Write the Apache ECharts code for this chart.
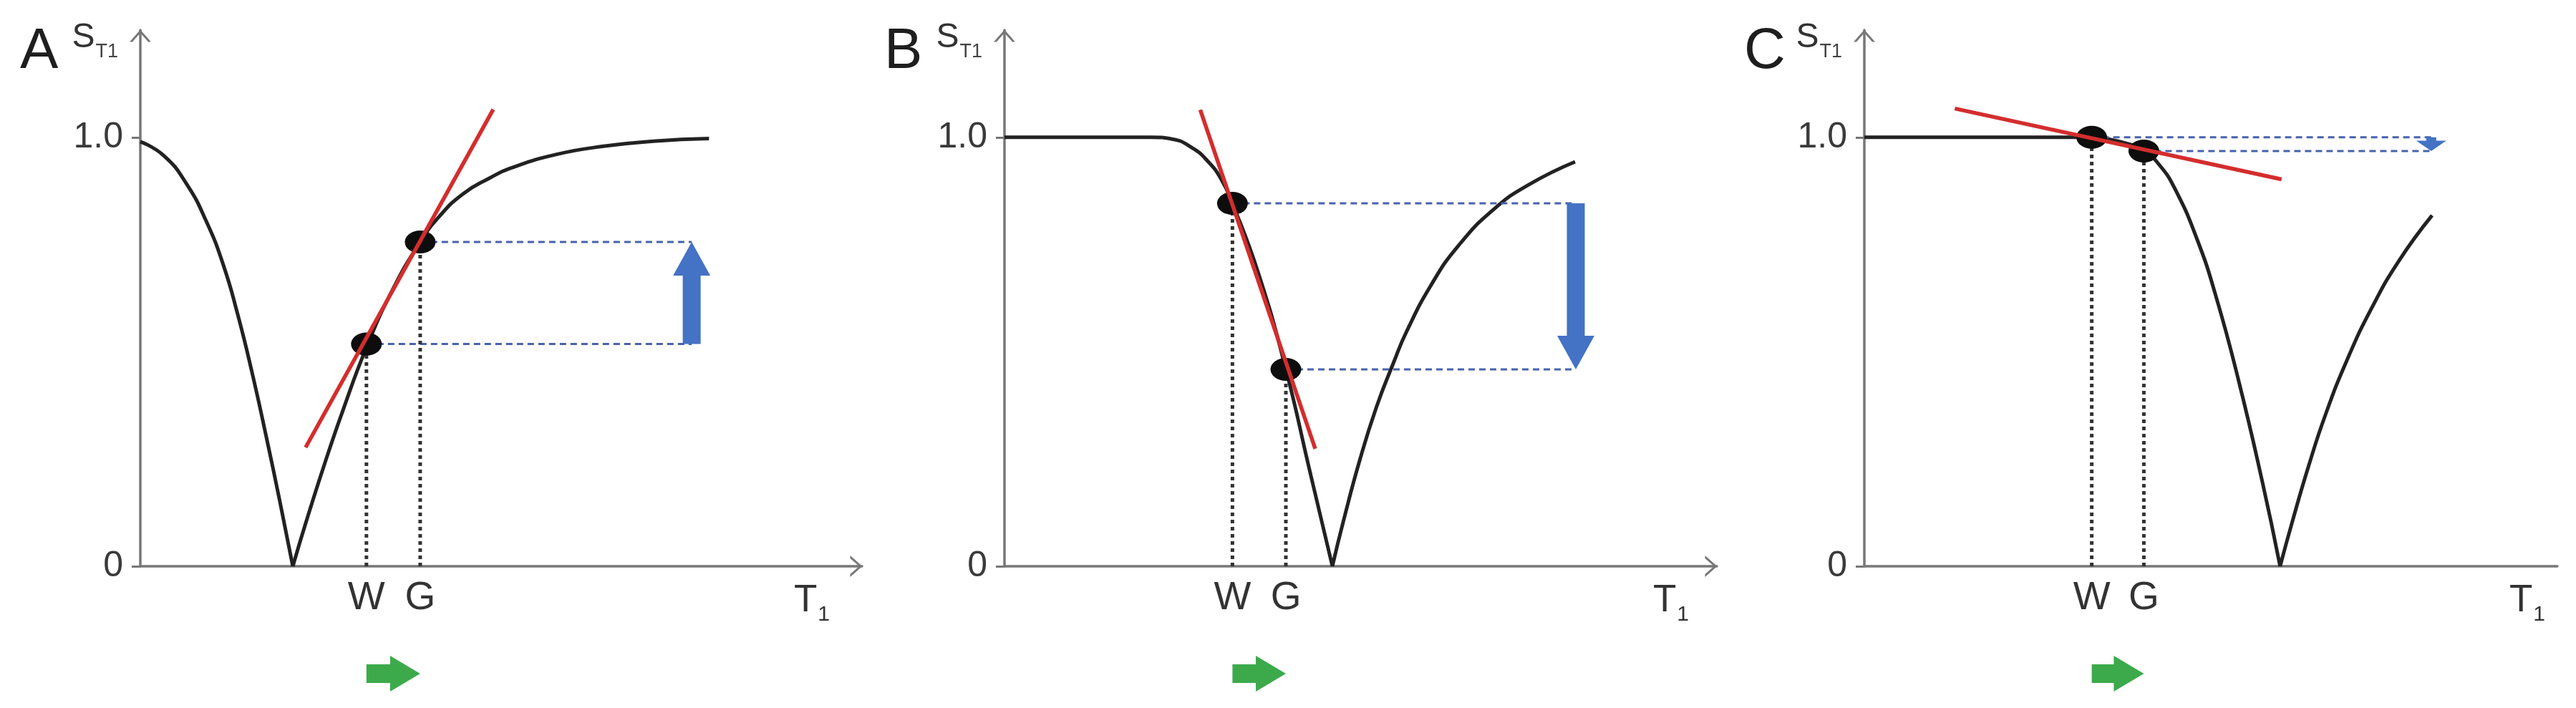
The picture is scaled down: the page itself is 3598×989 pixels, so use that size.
<!DOCTYPE html>
<html>
<head>
<meta charset="utf-8">
<title>S_T1 versus T1</title>
<script src="https://cdn.jsdelivr.net/npm/echarts@6/dist/echarts.min.js"></script>
<style>
  html, body { margin: 0; padding: 0; background: #fff; }
  #chart { width: 3598px; height: 989px; }
</style>
</head>
<body>
<div id="chart"></div>
<script>
// axis ticks
const yTickValues = [0, 1];
const yTickLabels = ['0', '1.0'];
const markNames = ['W', 'G'];
const panelLetters = ['A', 'B', 'C'];

// panel A (T1 axis in 0..100)
const curveA_fall = [[0, 0.99], [3.27, 0.957], [6.42, 0.891], [9.17, 0.803], [11.51, 0.702], [13.48, 0.588], [15.45, 0.454], [17.4, 0.306], [19.37, 0.148], [21.13, 0]];
const curveA_rise = [[21.13, 0], [23, 0.105], [25.5, 0.237], [28, 0.36], [31.33, 0.51], [35, 0.646], [38.78, 0.756], [41.4, 0.815], [44.7, 0.868], [48.4, 0.905], [51.3, 0.928], [57.9, 0.961], [64.6, 0.98], [71.1, 0.991], [78.8, 0.997]];
const tangentA = [[22.9, 0.277], [48.9, 1.065]];
const pointsA = [[31.33, 0.518], [38.78, 0.756]];   // W, G
const shiftA = 76.4;                                 // x of the blue arrow

// panel B
const curveB_fall = [[0, 1], [20.6, 1], [23.5, 0.996], [26.4, 0.975], [28.5, 0.945], [30.4, 0.903], [32.0, 0.846], [35.7, 0.68], [39.5, 0.459], [42.9, 0.219], [46.03, 0]];
const curveB_rise = [[46.03, 0], [47.59, 0.106], [49.9, 0.249], [52.21, 0.371], [54.6, 0.474], [56.44, 0.547], [59.9, 0.656], [63.75, 0.748], [68.74, 0.833], [73.75, 0.891], [80.1, 0.943]];
const tangentB = [[27.48, 1.064], [43.62, 0.274]];
const pointsB = [[32.0, 0.846], [39.5, 0.459]];
const shiftB = 80.2;

// panel C
const curveC_fall = [[0, 1], [30.6, 1], [32.81, 0.999], [36.8, 0.99], [40.33, 0.968], [42.6, 0.935], [44.88, 0.878], [48.04, 0.761], [50.74, 0.629], [53.97, 0.435], [57.44, 0.196], [59.99, 0]];
const curveC_rise = [[59.99, 0], [61.77, 0.105], [64.15, 0.236], [66.53, 0.353], [69.68, 0.482], [73.24, 0.603], [77.17, 0.713], [81.92, 0.818]];
const tangentC = [[13.05, 1.067], [60.2, 0.902]];
const pointsC = [[32.81, 1.0], [40.33, 0.968]];
const shiftC = 81.8;

const panels = [
  { fall: curveA_fall, rise: curveA_rise, tangent: tangentA, pts: pointsA, shift: shiftA },
  { fall: curveB_fall, rise: curveB_rise, tangent: tangentB, pts: pointsB, shift: shiftB },
  { fall: curveC_fall, rise: curveC_rise, tangent: tangentC, pts: pointsC, shift: shiftC }
];

// layout
const gridLeft = [196, 1403, 2604];
const gridWidth = [1008, 995, 968];
const gridTop = 42, gridHeight = 749;
const xArrow = [true, true, false];
const t1Gap = [-70, -64, -42];

const FONT = 'Liberation Sans, Arial, Helvetica, sans-serif';
const AXIS = '#777777';
const chevron = 'path://M0,17L15,0L30,17L26,17L15,4.5L4,17Z';

function renderVArrow(params, api) {
  const x = api.value(0);
  const a = api.coord([x, api.value(1)]);
  const b = api.coord([x, api.value(2)]);
  const span = Math.abs(b[1] - a[1]);
  const dir = b[1] > a[1] ? 1 : -1;
  const big = span > 60;
  const hl = big ? 47 : span * 0.75;
  const hw = big ? 26 : 21;
  const sw = big ? 12.5 : 7;
  const neck = b[1] - dir * hl;
  return {
    type: 'polygon',
    shape: { points: [[a[0] - sw, a[1]], [a[0] + sw, a[1]], [a[0] + sw, neck], [a[0] + hw, neck], [b[0], b[1]], [a[0] - hw, neck], [a[0] - sw, neck]] },
    style: { fill: '#4472c4' }
  };
}

function renderHArrow(params, api) {
  const a = api.coord([api.value(0), 0]);
  const b = api.coord([api.value(1), 0]);
  const y = a[1] + 150;
  const hl = 42, hh = 25, sh = 13;
  return {
    type: 'polygon',
    shape: { points: [[a[0], y - sh], [b[0] - hl, y - sh], [b[0] - hl, y - hh], [b[0], y], [b[0] - hl, y + hh], [b[0] - hl, y + sh], [a[0], y + sh]] },
    style: { fill: '#3caa4b' }
  };
}

const grids = [], xAxes = [], yAxes = [], titles = [], series = [];

panels.forEach((p, i) => {
  grids.push({ left: gridLeft[i], top: gridTop, width: gridWidth[i], height: gridHeight, outerBoundsMode: 'none', containLabel: false });

  titles.push({
    text: panelLetters[i], left: gridLeft[i] - 173, top: 28,
    textStyle: { fontSize: 80, fontWeight: 'normal', color: '#1e1e1e', fontFamily: FONT }
  });

  const markX = p.pts.map(d => d[0]);
  xAxes.push({
    gridIndex: i, type: 'value', min: 0, max: 100,
    axisLine: {
      show: true, onZero: false,
      lineStyle: { color: AXIS, width: 3.5 },
      symbol: ['none', xArrow[i] ? chevron : 'none'], symbolSize: [30, 17], symbolOffset: [0, -8]
    },
    axisTick: { show: false },
    splitLine: { show: false },
    axisLabel: {
      customValues: markX,
      formatter: v => markNames[markX.findIndex(m => Math.abs(m - v) < 1e-6)] || '',
      fontSize: 55, color: '#333', margin: 17, fontFamily: FONT
    },
    name: '{t|T}{s|1}', nameLocation: 'end', nameGap: t1Gap[i], nameMoveOverlap: false,
    nameTextStyle: {
      align: 'center', verticalAlign: 'top', padding: [22, 0, 0, 0],
      rich: {
        t: { fontSize: 53, lineHeight: 56, verticalAlign: 'top', color: '#333', fontFamily: FONT },
        s: { fontSize: 30, lineHeight: 30, verticalAlign: 'top', padding: [31, 0, 0, 1], color: '#333', fontFamily: FONT }
      }
    }
  });

  yAxes.push({
    gridIndex: i, type: 'value', min: 0, max: 1.25,
    axisLine: {
      show: true, onZero: false,
      lineStyle: { color: AXIS, width: 3.5 },
      symbol: ['none', chevron], symbolSize: [30, 17], symbolOffset: [0, -8]
    },
    axisTick: { show: true, customValues: yTickValues, length: 12, lineStyle: { color: AXIS, width: 3 } },
    splitLine: { show: false },
    axisLabel: {
      customValues: yTickValues,
      formatter: v => yTickLabels[yTickValues.indexOf(v)],
      fontSize: 50, color: '#3a3a3a', margin: 24, fontFamily: FONT
    },
    name: '{s|S}{sub|T1}', nameLocation: 'end', nameGap: 13, nameMoveOverlap: false,
    nameTextStyle: {
      align: 'right', verticalAlign: 'top', padding: [0, 31, 0, 0],
      rich: {
        s: { fontSize: 48, lineHeight: 50, verticalAlign: 'top', color: '#333', fontFamily: FONT },
        sub: { fontSize: 27, lineHeight: 27, verticalAlign: 'top', padding: [30, 0, 0, 1], color: '#444', fontFamily: FONT }
      }
    }
  });

  const base = { xAxisIndex: i, yAxisIndex: i, silent: true };
  const curve = { type: 'line', symbol: 'none', smooth: 0.5, lineStyle: { color: '#222', width: 5 }, z: 2 };
  series.push(Object.assign({}, base, curve, { data: p.fall }));
  series.push(Object.assign({}, base, curve, { data: p.rise }));

  p.pts.forEach(d => {
    // dotted drop line to the T1 axis
    series.push(Object.assign({}, base, {
      type: 'line', symbol: 'none', z: 2,
      lineStyle: { color: '#333', width: 5, type: [5, 5] },
      data: [[d[0], 0], d]
    }));
    // dashed level line to the arrow
    series.push(Object.assign({}, base, {
      type: 'line', symbol: 'none', z: 2,
      lineStyle: { color: '#4862ad', width: 3, type: [9, 6] },
      data: [d, [p.shift, d[1]]]
    }));
  });

  series.push(Object.assign({}, base, {
    type: 'custom', renderItem: renderVArrow, clip: false, z: 3,
    data: [[p.shift, p.pts[0][1], p.pts[1][1]]]
  }));

  series.push(Object.assign({}, base, {
    type: 'custom', renderItem: renderHArrow, clip: false, z: 3,
    data: [[p.pts[0][0], p.pts[1][0]]]
  }));

  series.push(Object.assign({}, base, {
    type: 'scatter', symbol: 'circle', symbolSize: [43, 32], z: 4,
    itemStyle: { color: '#0d0d0d', opacity: 1 },
    data: p.pts
  }));

  series.push(Object.assign({}, base, {
    type: 'line', symbol: 'none', z: 5,
    lineStyle: { color: '#d42d2d', width: 5.5 },
    data: p.tangent
  }));
});

const chart = echarts.init(document.getElementById('chart'));
chart.setOption({
  animation: false,
  backgroundColor: '#ffffff',
  textStyle: { fontFamily: FONT },
  title: titles,
  grid: grids,
  xAxis: xAxes,
  yAxis: yAxes,
  series: series
});
</script>
</body>
</html>
